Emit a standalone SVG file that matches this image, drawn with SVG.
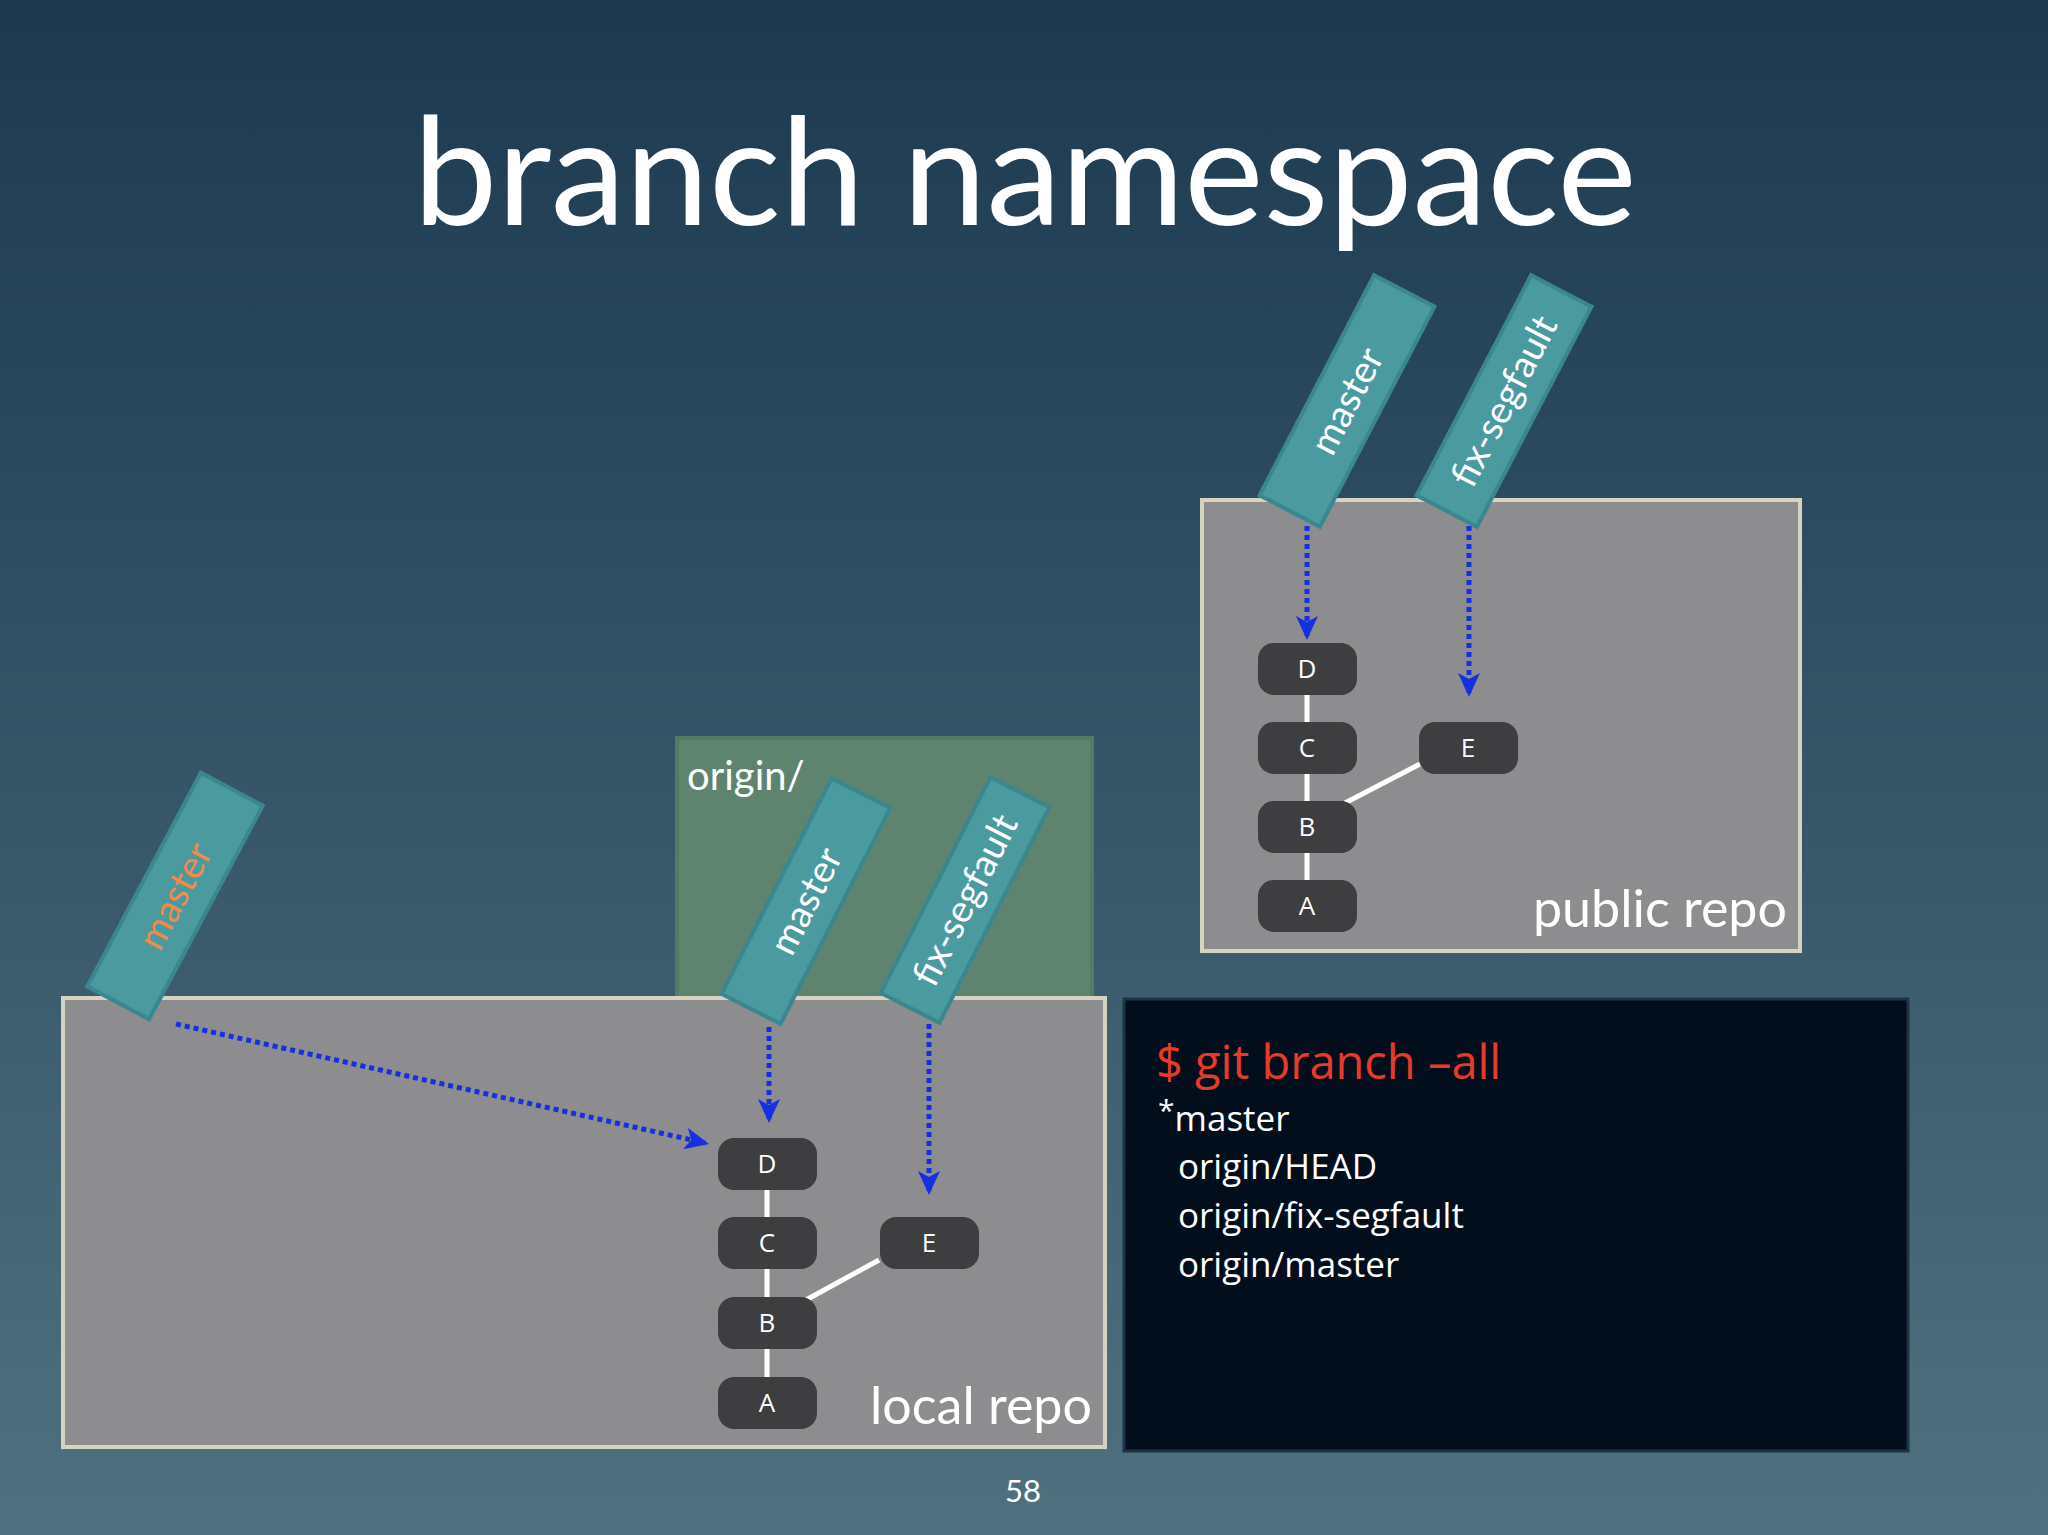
<svg xmlns="http://www.w3.org/2000/svg" width="2048" height="1535" viewBox="0 0 2048 1535">
<defs>
<linearGradient id="bg" x1="0" y1="0" x2="0" y2="1">
<stop offset="0" stop-color="#1c3950"/><stop offset="1" stop-color="#4f717f"/>
</linearGradient>
<marker id="ah" markerWidth="24" markerHeight="22" refX="20" refY="11" orient="auto" markerUnits="userSpaceOnUse" viewBox="0 0 24 22">
<path d="M0,0 L24,11 L0,22 L6,11 z" fill="#1530e0"/>
</marker>
<style>
.t{font-family:Lato,"Open Sans","Liberation Sans",sans-serif;fill:#fff}
.repo{fill:#8d8c8e;stroke:#d6d3c0;stroke-width:4}
.node rect{fill:#3e3d3f}
.node text{font-family:"Open Sans",Lato,"Liberation Sans",sans-serif;fill:#fff;font-size:26px;text-anchor:middle}
.br rect{fill:#4b9aa0;stroke:#3b8790;stroke-width:4}
.br text{font-family:Lato,"Open Sans",sans-serif;font-size:38px;fill:#fff;text-anchor:middle}
.arr{stroke:#1530e0;stroke-width:5;stroke-dasharray:5 4;fill:none;marker-end:url(#ah)}
.edge{stroke:#fff;stroke-width:5}
.term{font-family:"Open Sans",Lato,sans-serif;font-size:35px;fill:#fff}
</style>
</defs>
<rect width="2048" height="1535" fill="url(#bg)"/>
<text class="t" x="1025" y="225" font-size="150" text-anchor="middle">branch namespace</text>

<g id="origin-box"><rect x="677" y="738" width="415" height="260" fill="#5e8470" stroke="#4f7c62" stroke-width="4"/>
<text class="t" x="687" y="790" font-size="40">origin/</text></g>

<g id="local-repo"><rect class="repo" x="63" y="998" width="1042" height="449"/>
<text class="t" x="1092" y="1424" font-size="52" text-anchor="end">local repo</text></g>

<g id="public-repo"><rect class="repo" x="1202" y="500" width="598" height="451"/>
<text class="t" x="1787" y="927" font-size="52" text-anchor="end">public repo</text></g>

<g id="terminal"><rect x="1124" y="999" width="784" height="452" fill="#020e1c" stroke="#1f3346" stroke-width="3"/>
<text x="1156" y="1079" font-family="'Open Sans',Lato,sans-serif" font-size="47" fill="#e83a2a">$ git branch –all</text>
<text class="term" x="1158" y="1131"><tspan font-size="30" dy="-10">*</tspan><tspan dy="10">master</tspan></text>
<text class="term" x="1178" y="1179">origin/HEAD</text>
<text class="term" x="1178" y="1228">origin/fix-segfault</text>
<text class="term" x="1178" y="1277">origin/master</text></g>

<g id="connectors">
<line class="edge" x1="767" y1="1164" x2="767" y2="1403"/>
<line class="edge" x1="806" y1="1300" x2="879" y2="1260"/>
<line class="edge" x1="1307" y1="669" x2="1307" y2="906"/>
<line class="edge" x1="1345" y1="803" x2="1420" y2="764"/>
<line class="arr" x1="176" y1="1024" x2="705" y2="1143"/>
<line class="arr" x1="769" y1="1027" x2="769" y2="1119"/>
<line class="arr" x1="929" y1="1024" x2="929" y2="1191"/>
<line class="arr" x1="1307" y1="526" x2="1307" y2="636"/>
<line class="arr" x1="1469" y1="526" x2="1469" y2="693"/>
</g>

<g id="local-D" class="node"><rect x="718" y="1138" width="99" height="52" rx="16"/><text x="767" y="1173">D</text></g>
<g id="local-C" class="node"><rect x="718" y="1217" width="99" height="52" rx="16"/><text x="767" y="1252">C</text></g>
<g id="local-B" class="node"><rect x="718" y="1297" width="99" height="52" rx="16"/><text x="767" y="1332">B</text></g>
<g id="local-A" class="node"><rect x="718" y="1377" width="99" height="52" rx="16"/><text x="767" y="1412">A</text></g>
<g id="local-E" class="node"><rect x="880" y="1217" width="99" height="52" rx="16"/><text x="929" y="1252">E</text></g>

<g id="public-D" class="node"><rect x="1258" y="643" width="99" height="52" rx="16"/><text x="1307" y="678">D</text></g>
<g id="public-C" class="node"><rect x="1258" y="722" width="99" height="52" rx="16"/><text x="1307" y="757">C</text></g>
<g id="public-B" class="node"><rect x="1258" y="801" width="99" height="52" rx="16"/><text x="1307" y="836">B</text></g>
<g id="public-A" class="node"><rect x="1258" y="880" width="99" height="52" rx="16"/><text x="1307" y="915">A</text></g>
<g id="public-E" class="node"><rect x="1419" y="722" width="99" height="52" rx="16"/><text x="1468" y="757">E</text></g>

<g id="br-local-master" class="br" transform="translate(175,896) rotate(-62)"><rect x="-121" y="-35" width="242" height="70"/><text y="13" style="fill:#f08a48">master</text></g>
<g id="br-origin-master" class="br" transform="translate(806,901) rotate(-63)"><rect x="-121" y="-33" width="242" height="66"/><text y="13">master</text></g>
<g id="br-origin-fix" class="br" transform="translate(965,900) rotate(-63)"><rect x="-121" y="-33" width="242" height="66"/><text y="13">fix-segfault</text></g>
<g id="br-public-master" class="br" transform="translate(1347,401) rotate(-62.5)"><rect x="-124" y="-34" width="248" height="68"/><text y="13">master</text></g>
<g id="br-public-fix" class="br" transform="translate(1504,401) rotate(-62.5)"><rect x="-124" y="-34" width="248" height="68"/><text y="13">fix-segfault</text></g>

<text class="t" x="1023" y="1502" font-size="31" text-anchor="middle">58</text>
</svg>
